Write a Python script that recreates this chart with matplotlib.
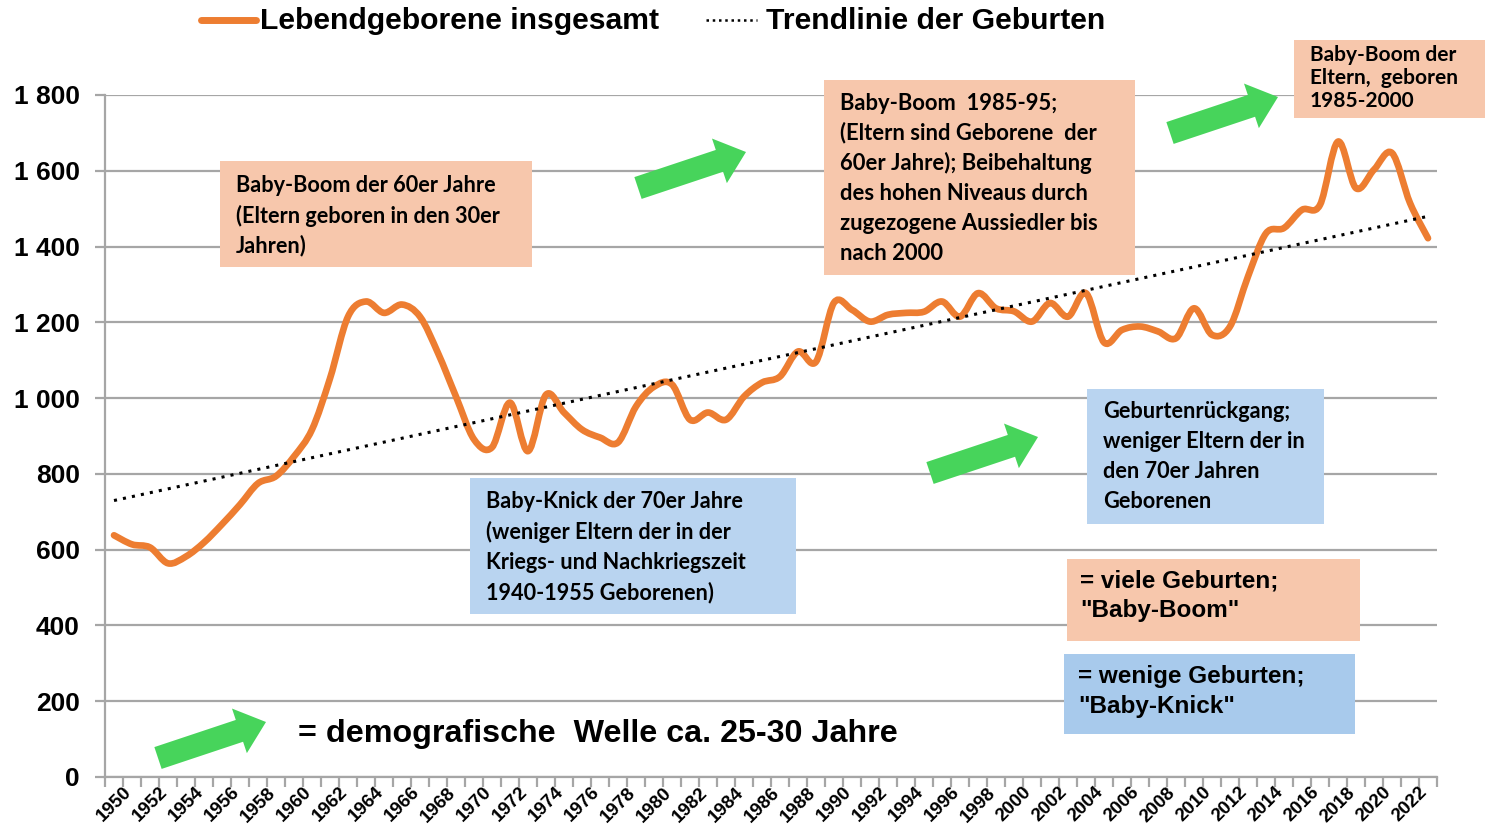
import numpy as np
import matplotlib
matplotlib.use("Agg")
import matplotlib.pyplot as plt
from matplotlib.path import Path
from matplotlib.patches import PathPatch, Rectangle, Polygon
from matplotlib.transforms import Affine2D, ScaledTranslation
from matplotlib.lines import Line2D

# Lebendgeborene (Tsd.)
years = list(range(1950, 2024))
births = [638, 614, 606, 564, 582, 619, 667, 719, 775, 794,
          846, 917, 1052, 1215, 1255, 1225, 1247, 1215, 1119, 1004,
          891, 870, 988, 860, 1009, 962, 917, 896, 883, 978,
          1030, 1036, 943, 962, 943, 1004, 1041, 1057, 1123, 1096,
          1252, 1233, 1202, 1220, 1225, 1228, 1255, 1215, 1277, 1237,
          1229, 1202, 1251, 1215, 1277, 1147, 1180, 1189, 1176, 1158,
          1237, 1167, 1189, 1321, 1435, 1449, 1497, 1510, 1677, 1554,
          1603, 1647, 1515, 1422]
y_ticks = [0, 200, 400, 600, 800, 1000, 1200, 1400, 1600, 1800]
y_labels = ["0", "200", "400", "600", "800", "1 000", "1 200", "1 400", "1 600", "1 800"]

legend_labels = ["Lebendgeborene insgesamt", "Trendlinie der Geburten"]
boom_60 = ["Baby-Boom der 60er Jahre", "(Eltern geboren in den 30er", "Jahren)"]
boom_85 = ["Baby-Boom  1985-95;", "(Eltern sind Geborene  der", "60er Jahre); Beibehaltung",
           "des hohen Niveaus durch", "zugezogene Aussiedler bis", "nach 2000"]
boom_eltern = ["Baby-Boom der", "Eltern,  geboren", "1985-2000"]
knick_70 = ["Baby-Knick der 70er Jahre", "(weniger Eltern der in der",
            "Kriegs- und Nachkriegszeit", "1940-1955 Geborenen)"]
rueckgang = ["Geburtenrückgang;", "weniger Eltern der in", "den 70er Jahren", "Geborenen"]
key_boom = ["= viele Geburten;", "\"Baby-Boom\""]
key_knick = ["= wenige Geburten;", "\"Baby-Knick\""]
welle = "= demografische  Welle ca. 25-30 Jahre"

orange = "#ED7D31"
peach = "#F7C7AC"
blue = "#B9D4F0"
blue2 = "#A8CAEC"
green = "#47D45B"
grid_c = "#A6A6A6"

W, H = 1485, 839
fig = plt.figure(figsize=(W / 100, H / 100), dpi=100)
px = Affine2D().scale(1 / W, -1 / H).translate(0, 1) + fig.transFigure

ax = fig.add_axes([105 / W, 1 - 777 / H, (1437 - 105) / W, (777 - 95) / H])
x = np.arange(len(years))


def smooth_path(xs, ys):
    pts = np.column_stack([xs, ys]).astype(float)
    n = len(pts)
    verts = [pts[0]]
    codes = [Path.MOVETO]
    for i in range(n - 1):
        p0 = pts[i - 1] if i > 0 else pts[i]
        p1 = pts[i]
        p2 = pts[i + 1]
        p3 = pts[i + 2] if i + 2 < n else pts[i + 1]
        verts += [p1 + (p2 - p0) / 6, p2 - (p3 - p1) / 6, p2]
        codes += [Path.CURVE4] * 3
    return Path(verts, codes)


ax.add_patch(PathPatch(smooth_path(x, births), fill=False, edgecolor=orange, lw=4.8,
                       capstyle="round", joinstyle="round", zorder=3))
coef = np.polyfit(x, births, 1)
ax.plot(x, np.polyval(coef, x), color="black", ls=(0, (1, 2)), lw=2.2, zorder=4)

ax.set_xlim(-0.5, len(years) - 0.5)
ax.set_ylim(0, 1800)
ax.set_yticks(y_ticks)
ax.set_yticklabels(y_labels, fontsize=19, fontweight="bold", family="Liberation Sans")
ax.yaxis.grid(True, color=grid_c, lw=1.6)
ax.set_axisbelow(True)
for s in ["top", "right"]:
    ax.spines[s].set_visible(False)
for s in ["left", "bottom"]:
    ax.spines[s].set_color(grid_c)
    ax.spines[s].set_linewidth(1.6)
ax.tick_params(axis="y", length=7, width=1.6, color=grid_c, pad=11)

ax.set_xticks(x[::2])
ax.set_xticklabels([str(y) for y in years[::2]], fontsize=13.5, fontweight="bold",
                   family="Liberation Sans")
ax.set_xticks(np.arange(-0.5, len(years), 1), minor=True)
ax.tick_params(axis="x", which="major", length=0, pad=5)
ax.tick_params(axis="x", which="minor", length=7, width=1.6, color=grid_c)
shift = ScaledTranslation(9 / 100, 0, fig.dpi_scale_trans)
for lbl in ax.get_xticklabels():
    lbl.set_rotation(45)
    lbl.set_ha("right")
    lbl.set_va("top")
    lbl.set_rotation_mode("anchor")
    lbl.set_transform(lbl.get_transform() + shift)

# Legende
fig.add_artist(Line2D([201, 256], [20, 20], transform=px, color=orange, lw=5,
                      solid_capstyle="round"))
fig.text(260, 21, legend_labels[0], transform=px, fontsize=21.7, fontweight="bold",
         family="Liberation Sans", va="center")
fig.add_artist(Line2D([706, 757], [20, 20], transform=px, color="black", lw=1.8,
                      ls=(0, (1, 1.5))))
fig.text(766, 21, legend_labels[1], transform=px, fontsize=21.7, fontweight="bold",
         family="Liberation Sans", va="center")


def box(l, t, r, b, color, lines, tx, ty, step, size, fam="Lato"):
    fig.add_artist(Rectangle((l, b), r - l, t - b, transform=px, facecolor=color,
                             edgecolor="none", zorder=5))
    for i, s in enumerate(lines):
        fig.text(tx, ty + i * step, s, transform=px, fontsize=size, fontweight="bold",
                 family=fam, va="center", zorder=6)


box(220, 161, 532, 267, peach, boom_60, 236, 185, 30.5, 15.6)
box(824, 80, 1135, 275, peach, boom_85, 840, 103, 30, 15.8)
box(1294, 40, 1485, 118, peach, boom_eltern, 1310, 55, 23, 15)
box(470, 478, 796, 614, blue, knick_70, 486, 502, 30.3, 15.6)
box(1087, 389, 1324, 524, blue, rueckgang, 1103, 412, 30, 15.7)
box(1067, 559, 1360, 641, peach, key_boom, 1080, 581, 29, 17.5, "Liberation Sans")
box(1064, 654, 1355, 734, blue2, key_knick, 1078, 677, 29, 17.5, "Liberation Sans")

fig.text(298, 734, welle, transform=px, fontsize=23.2, fontweight="bold",
         family="Liberation Sans", va="center")


def arrow(left, top):
    t = np.array([left + 3, top + 50.0])
    p = np.array([left + 111, top + 14.0])
    u = (p - t) / np.linalg.norm(p - t)
    n = np.array([-u[1], u[0]])
    h = p - u * 28
    sw, hw = 11.5, 23.5
    pts = [t + n * sw, h + n * sw, h + n * hw, p, h - n * hw, h - n * sw, t - n * sw]
    fig.add_artist(Polygon(pts, closed=True, transform=px, facecolor=green,
                           edgecolor="none", zorder=5))


arrow(155, 708)
arrow(635, 138)
arrow(1167, 83)
arrow(927, 423)

fig.savefig("out.png", dpi=100)
